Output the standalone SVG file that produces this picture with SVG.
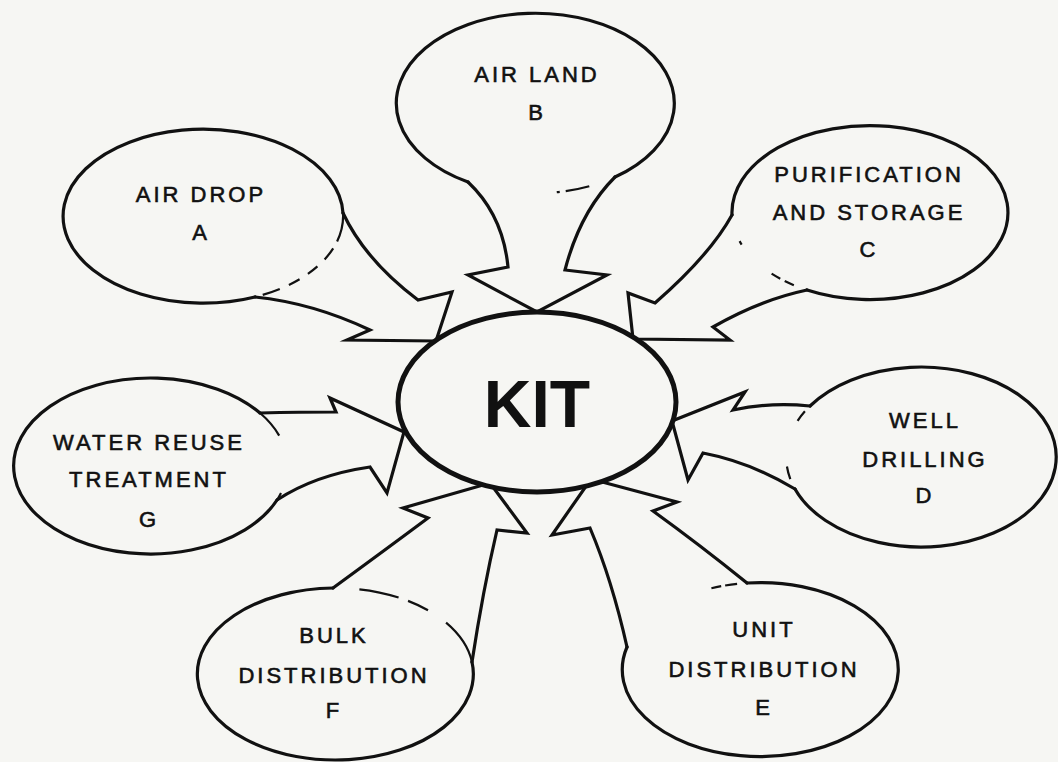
<svg xmlns="http://www.w3.org/2000/svg" width="1058" height="762" viewBox="0 0 1058 762">
<style>
.bg{fill:#f6f6f3}
.rim{fill:none;stroke:#111;stroke-width:3.2;stroke-linejoin:miter;stroke-linecap:round}
.dash{fill:none;stroke:#111;stroke-width:2.2}
.arr{fill:none;stroke:#111;stroke-width:3.2;stroke-linejoin:miter;stroke-miterlimit:8;stroke-linecap:round}
.lbl{font-family:"Liberation Sans",Arial,sans-serif;font-size:22px;letter-spacing:3px;fill:#111;stroke:#111;stroke-width:0.6;text-anchor:middle}
.kit{font-family:"Liberation Sans",Arial,sans-serif;font-size:66px;font-weight:bold;fill:#111;text-anchor:middle}
</style>
<rect class="bg" x="0" y="0" width="1058" height="762"/>

<g id="connectors">
  <path class="arr" d="M255,297 Q313,303 370,330 L347,340 L436,341 L452,292 L418,300 Q365,260 343,213"/>
  <path class="arr" d="M468,182 Q503,215 508,267 L468,275 L537,312 L607,275 L565,270 Q580,212 615,177"/>
  <path class="arr" d="M807,290 Q760,300 713,327 L730,340 L633,339 L628,293 L655,303 Q710,255 732,215"/>
  <path class="arr" d="M795,489 Q750,462 703,453 L688,480 L672,421 L745,392 L733,410 Q770,402 810,406"/>
  <path class="arr" d="M747,583 Q700,545 653,511 L677,502 L591,479 L552,535 L590,528 Q612,580 627,647"/>
  <path class="arr" d="M472,662 Q483,590 497,530 L527,533 L490,483 L403,508 L428,518 Q385,550 333,588"/>
  <path class="arr" d="M277,500 Q315,475 370,467 L387,493 L404,432 L330,398 L336,412 Q300,412 260,413"/>
</g>

<g id="node-a">
  <path class="rim" d="M343,213 A140 87 0 1 0 255,297"/>
  <path class="dash" d="M255,297 A140 87 0 0 0 343,213" style="stroke-dasharray:0 8 18 10 12 10 12 10 14 8 40"/>
  <text class="lbl" x="201" y="202">AIR DROP</text>
  <text class="lbl" x="201" y="240">A</text>
</g>

<g id="node-b">
  <path class="rim" d="M615,177 A139 90 0 1 0 468,182"/>
  <path class="dash" d="M468,182 A139 90 0 0 0 615,177" style="stroke-dasharray:0 90 3 6 24 200"/>
  <text class="lbl" x="537" y="82">AIR LAND</text>
  <text class="lbl" x="537" y="120">B</text>
</g>

<g id="node-c">
  <path class="rim" d="M732,215 A138 87 0 1 1 807,290"/>
  <path class="dash" d="M807,290 A138 87 0 0 1 732,215" style="stroke-dasharray:0 14 10 5 10 42 4 100"/>
  <text class="lbl" x="869" y="182">PURIFICATION</text>
  <text class="lbl" x="869" y="220">AND STORAGE</text>
  <text class="lbl" x="869" y="257">C</text>
</g>

<g id="node-d">
  <path class="rim" d="M810,406 A135 90 0 1 1 795,489"/>
  <path class="dash" d="M795,489 A135 90 0 0 1 810,406" style="stroke-dasharray:0 11 13 48 12 100"/>
  <text class="lbl" x="925" y="428">WELL</text>
  <text class="lbl" x="925" y="467">DRILLING</text>
  <text class="lbl" x="925" y="503">D</text>
</g>

<g id="node-e">
  <path class="rim" d="M627,647 A138 87 0 1 0 747,583"/>
  <path class="dash" d="M747,583 A138 87 0 0 0 627,647" style="stroke-dasharray:0 10 12 4 10 200"/>
  <text class="lbl" x="764" y="637">UNIT</text>
  <text class="lbl" x="764" y="677">DISTRIBUTION</text>
  <text class="lbl" x="764" y="715">E</text>
</g>

<g id="node-f">
  <path class="rim" d="M333,588 A138 86 0 1 0 472,662"/>
  <path class="dash" d="M472,662 A138 86 0 0 0 333,588" style="stroke-dasharray:48 22 22 10 40 200"/>
  <text class="lbl" x="334" y="643">BULK</text>
  <text class="lbl" x="334" y="683">DISTRIBUTION</text>
  <text class="lbl" x="334" y="718">F</text>
</g>

<g id="node-g">
  <path class="rim" d="M260,413 A137 88 0 1 0 277,500"/>
  <path class="dash" d="M277,500 A137 88 0 0 0 260,413" style="stroke-dasharray:8 60 30 200"/>
  <text class="lbl" x="149" y="450">WATER REUSE</text>
  <text class="lbl" x="149" y="487">TREATMENT</text>
  <text class="lbl" x="149" y="527">G</text>
</g>

<g id="node-kit">
  <ellipse cx="537" cy="402" rx="139" ry="90" fill="#f6f6f3" stroke="#111" stroke-width="5"/>
  <text class="kit" x="537" y="427">KIT</text>
</g>
</svg>
